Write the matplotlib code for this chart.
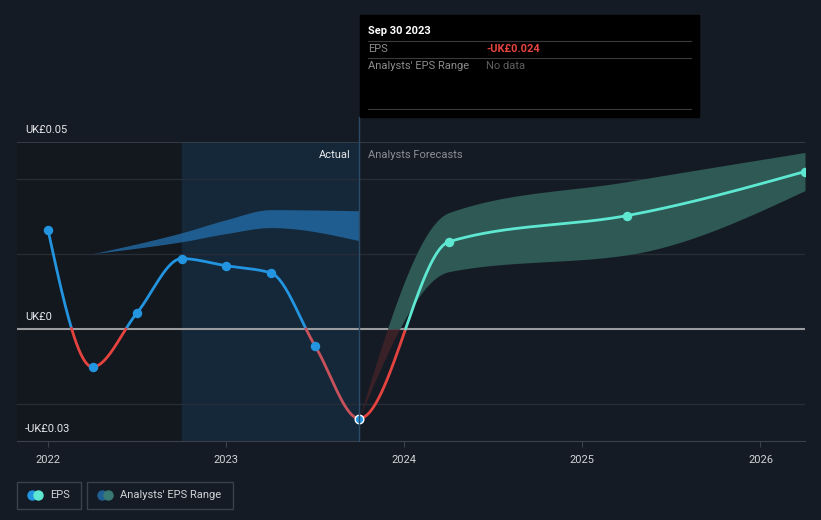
import numpy as np
import matplotlib.pyplot as plt
from matplotlib.lines import Line2D
from matplotlib.patches import Rectangle, FancyBboxPatch
from matplotlib.transforms import offset_copy

plt.rcParams['font.family'] = ['Roboto', 'DejaVu Sans']

# EPS (actual + forecast), decimal years
eps_x = [2022.0, 2022.25, 2022.5, 2022.75, 2023.0, 2023.25, 2023.5, 2023.747,
         2024.25, 2025.25, 2026.25]
eps_y = [0.0265, -0.0102, 0.0043, 0.0188, 0.0169, 0.0150, -0.0046, -0.024,
         0.0233, 0.0303, 0.0421]
n_actual = 8

# analysts' range in the past
past_rng_x = [2022.25, 2022.75, 2023.0, 2023.25, 2023.747]
past_rng_lo = [0.0201, 0.0233, 0.0255, 0.0271, 0.0236]
past_rng_hi = [0.0201, 0.0257, 0.0292, 0.0319, 0.0316]

# analysts' range forecast
fc_rng_x = [2023.747, 2024.25, 2025.25, 2026.25]
fc_rng_lo = [-0.024, 0.0153, 0.0198, 0.0370]
fc_rng_hi = [-0.024, 0.0311, 0.0394, 0.0472]

x_ticks = [2022, 2023, 2024, 2025, 2026]

BG = '#151b24'
BLUE = '#2394df'
TEAL = '#5ee8d1'
RED = '#e5433f'


def monotone(xs, ys, n=400):
    # monotone cubic (like d3 curveMonotoneX) for drawing the smooth line
    xs = np.asarray(xs, float); ys = np.asarray(ys, float)
    h = np.diff(xs); d = np.diff(ys) / h
    m = np.zeros_like(ys)
    for i in range(1, len(xs) - 1):
        if d[i - 1] * d[i] <= 0:
            m[i] = 0
        else:
            w1 = 2 * h[i] + h[i - 1]; w2 = h[i] + 2 * h[i - 1]
            m[i] = (w1 + w2) / (w1 / d[i - 1] + w2 / d[i])
    m[0] = (3 * d[0] - m[1]) / 2
    m[-1] = (3 * d[-1] - m[-2]) / 2
    out_x, out_y = [], []
    for i in range(len(xs) - 1):
        t = np.linspace(0, 1, n // (len(xs) - 1) + 2)
        h00 = 2 * t**3 - 3 * t**2 + 1; h10 = t**3 - 2 * t**2 + t
        h01 = -2 * t**3 + 3 * t**2; h11 = t**3 - t**2
        yy = h00 * ys[i] + h10 * h[i] * m[i] + h01 * ys[i + 1] + h11 * h[i] * m[i + 1]
        out_x.append(xs[i] + t * h[i]); out_y.append(yy)
    return np.concatenate(out_x), np.concatenate(out_y)


fig = plt.figure(figsize=(8.21, 5.2), dpi=100, facecolor=BG)
ax = fig.add_axes([17 / 821, 79 / 520, 788 / 821, 299 / 520])
ax.set_facecolor(BG)
ax.set_xlim(2021.826, 2026.25)
ax.set_ylim(-0.03, 0.05)

# background regions
ax.axvspan(2021.826, 2022.75, color='#13171e', zorder=0)
ax.axvspan(2022.75, 2023.747, color='#152839', zorder=0)

# grid
for v in [0.04, 0.02, -0.02]:
    ax.axhline(v, color='#262d37', lw=1, zorder=1)
ax.axhline(0.05, color='#3b414b', lw=1.2, zorder=1)
ax.axhline(0, color='#9a9c9f', lw=1.5, zorder=2)

# past analyst range
bx, bhi = monotone(past_rng_x, past_rng_hi)
_, blo = monotone(past_rng_x, past_rng_lo)
ax.fill_between(bx, blo, bhi, color='#226aa5', alpha=0.8, lw=0, zorder=2)

# forecast analyst range
fx, fhi = monotone(fc_rng_x, fc_rng_hi)
_, flo = monotone(fc_rng_x, fc_rng_lo)
ax.fill_between(fx, np.maximum(flo, 0), fhi, where=fhi > 0, color='#2e5955',
                lw=0, zorder=2, interpolate=True)
ax.fill_between(fx, flo, np.minimum(fhi, 0), where=flo < 0, color='#3a2027',
                lw=0, zorder=2, interpolate=True)

# EPS line coloured by sign / actual vs forecast
lx, ly = monotone(eps_x, eps_y, n=2000)
split = eps_x[n_actual - 1]
pos = ly >= 0
past = lx <= split
segs = [(past & pos, BLUE), (past & ~pos & (lx < 2023.3), RED),
        (past & ~pos & (lx >= 2023.3), '#c8525b'),
        (~past & ~pos, RED), (~past & pos, TEAL)]
for mask, col in segs:
    m2 = mask | np.roll(mask, 1) | np.roll(mask, -1)
    yy = np.where(m2, ly, np.nan)
    ax.plot(lx, yy, color=col, lw=2, zorder=4, solid_capstyle='round')

ax.plot(eps_x[:n_actual - 1], eps_y[:n_actual - 1], 'o', color=BLUE, ms=5.8, zorder=5)
ax.plot(eps_x[n_actual - 1], eps_y[n_actual - 1], 'o', color=BLUE, ms=6.2,
        mec='white', mew=1, zorder=6)
ax.plot(eps_x[n_actual:], eps_y[n_actual:], 'o', color=TEAL, ms=5.8, zorder=5)

for s in ax.spines.values():
    s.set_visible(False)
ax.spines['bottom'].set_visible(True)
ax.spines['bottom'].set_color('#3b414b')
ax.set_yticks([])
ax.set_xticks(x_ticks)
ax.set_xticklabels([str(t) for t in x_ticks])
ax.tick_params(axis='x', colors='#3b414b', labelcolor='#d0d3d6', labelsize=8,
               length=4, pad=6)

# y labels
ytr = offset_copy(ax.get_yaxis_transform(), fig=fig, x=0, y=5, units='points')
for v, lab in [(0.05, 'UK£0.05'), (0.0, 'UK£0'), (-0.03, '-UK£0.03')]:
    ax.text(0.01, v, lab, transform=ytr, color='#e6e8ea', fontsize=8,
            va='bottom', ha='left')

ax.text(2023.70, 0.0465, 'Actual', color='#e6e8ea', fontsize=8, ha='right', va='center')
ax.text(2023.795, 0.0465, 'Analysts Forecasts', color='#8a8f96', fontsize=8,
        ha='left', va='center')

# tooltip
fig.add_artist(Line2D([359 / 821, 359 / 821], [79 / 520, 403 / 520], color='#2b4a66',
                      lw=1, zorder=3))
fig.add_artist(Rectangle((360 / 821, 403 / 520), 339 / 821, 102 / 520,
                         color='black', zorder=10))
fig.text(368 / 821, 1 - 31 / 520, 'Sep 30 2023', color='white', fontsize=8,
         fontweight='bold', va='center', zorder=11)
for yy in [41, 58, 109]:
    fig.add_artist(Line2D([368 / 821, 691 / 821], [1 - yy / 520, 1 - yy / 520],
                          color='#3a3a3a', lw=0.8, zorder=11))
fig.text(368 / 821, 1 - 49 / 520, 'EPS', color='#8c8c8c', fontsize=8, va='center', zorder=11)
fig.text(486 / 821, 1 - 49 / 520, '-UK£0.024', color='#e5433f', fontsize=8,
         fontweight='bold', va='center', zorder=11)
fig.text(368 / 821, 1 - 66 / 520, "Analysts' EPS Range", color='#8c8c8c', fontsize=8,
         va='center', zorder=11)
fig.text(486 / 821, 1 - 66 / 520, 'No data', color='#5e5e5e', fontsize=8,
         va='center', zorder=11)

# legend
for (x0, w) in [(17, 64), (87, 146)]:
    fig.add_artist(FancyBboxPatch((x0 / 821, 1 - 509 / 520), w / 821, 27 / 520,
                                  boxstyle='square,pad=0', fc=BG, ec='#3b414b', lw=1))
fig.add_artist(Line2D([32 / 821], [1 - 495 / 520], marker='o', ms=6.5, color=BLUE, lw=0))
fig.add_artist(Line2D([38 / 821], [1 - 495 / 520], marker='o', ms=6.5, color=TEAL, lw=0))
fig.text(50 / 821, 1 - 495 / 520, 'EPS', color='#d0d3d6', fontsize=8, va='center')
fig.add_artist(Line2D([102 / 821], [1 - 495 / 520], marker='o', ms=6.5, color='#1f5f94', lw=0))
fig.add_artist(Line2D([108 / 821], [1 - 495 / 520], marker='o', ms=6.5, color='#3a7a74', lw=0))
fig.text(120 / 821, 1 - 495 / 520, "Analysts' EPS Range", color='#d0d3d6', fontsize=8,
         va='center')

fig.savefig('out.png', dpi=100, facecolor=BG)
